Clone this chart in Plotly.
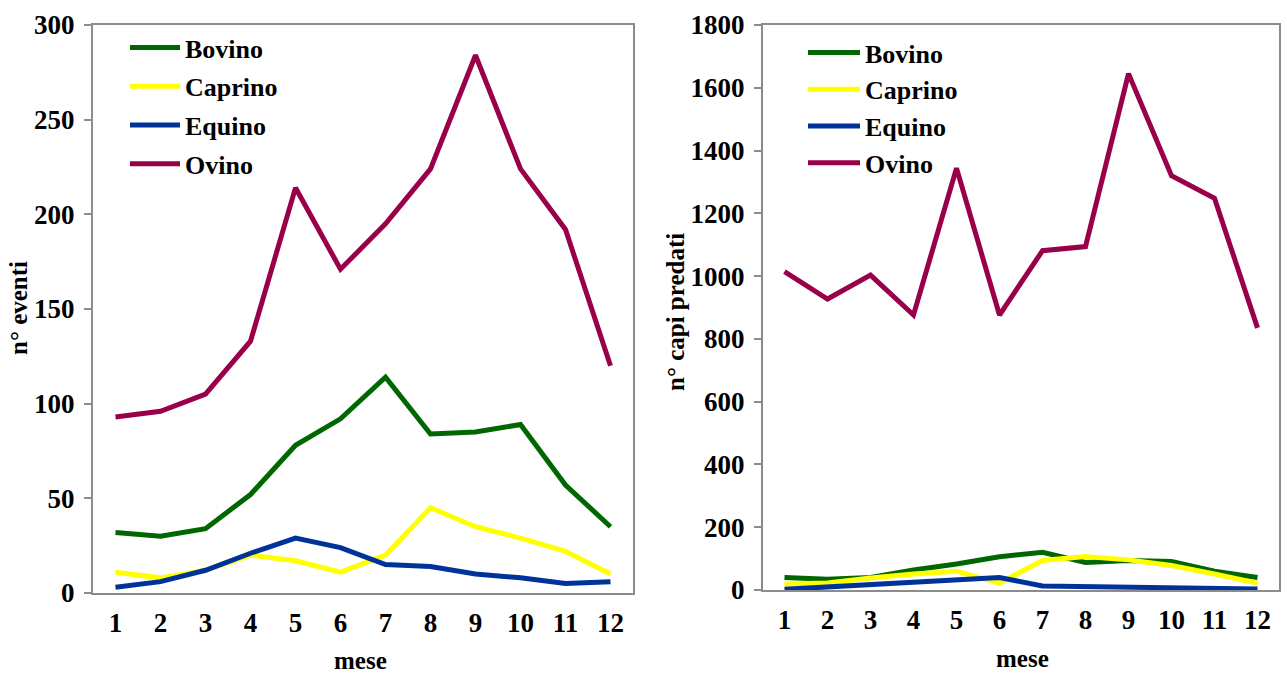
import plotly.graph_objects as go

months = [str(m) for m in range(1, 13)]
series_names = ["Bovino", "Caprino", "Equino", "Ovino"]
colors = {"Bovino": "#006600", "Caprino": "#FFFF00", "Equino": "#003399", "Ovino": "#990049"}

# Left chart: n° eventi
eventi_bovino = [32, 30, 34, 52, 78, 92, 114, 84, 85, 89, 57, 35]
eventi_caprino = [11, 8, 12, 20, 17, 11, 20, 45, 35, 29, 22, 10]
eventi_equino = [3, 6, 12, 21, 29, 24, 15, 14, 10, 8, 5, 6]
eventi_ovino = [93, 96, 105, 133, 214, 171, 195, 224, 284, 224, 192, 120]

# Right chart: n° capi predati
capi_bovino = [40, 34, 40, 64, 83, 106, 120, 88, 94, 91, 60, 40]
capi_caprino = [19, 22, 38, 51, 60, 22, 94, 107, 96, 78, 51, 22]
capi_equino = [2, 9, 17, 24, 30, 40, 13, 11, 8, 6, 3, 3]
capi_ovino = [1014, 927, 1003, 876, 1344, 876, 1081, 1094, 1645, 1320, 1248, 835]

eventi = dict(zip(series_names, [eventi_bovino, eventi_caprino, eventi_equino, eventi_ovino]))
capi = dict(zip(series_names, [capi_bovino, capi_caprino, capi_equino, capi_ovino]))

FONT = "Liberation Serif, Times New Roman, serif"
W, H = 1287, 675
TICK = dict(family=FONT, size=27, color="black", weight="bold")
LEG = dict(family=FONT, size=26, color="black", weight="bold")
TTL = dict(family=FONT, size=25, color="black", weight="bold")

fig = go.Figure()
for name in series_names:
    fig.add_trace(go.Scatter(x=months, y=eventi[name], mode="lines", name=name,
                             line=dict(color=colors[name], width=5),
                             xaxis="x", yaxis="y", legend="legend", legendgroup="l" + name))
for name in series_names:
    fig.add_trace(go.Scatter(x=months, y=capi[name], mode="lines", name=name,
                             line=dict(color=colors[name], width=5),
                             xaxis="x2", yaxis="y2", legend="legend2", legendgroup="r" + name))

axis_common = dict(showline=True, mirror=True, linecolor="#8c8c8c", linewidth=2,
                   showgrid=False, zeroline=False, automargin=False, tickfont=TICK)

fig.update_layout(
    width=W, height=H,
    margin=dict(l=0, r=0, t=0, b=0, autoexpand=False),
    paper_bgcolor="white", plot_bgcolor="white",
    font=dict(family=FONT, color="black", weight="bold"),
    xaxis=dict(domain=[93 / W, 633 / W], anchor="y", type="category",
               range=[-0.5, 11.5], ticks="", ticklabelstandoff=5, **axis_common),
    yaxis=dict(domain=[1 - 593 / H, 1 - 25 / H], anchor="x", range=[0, 300],
               tickvals=[0, 50, 100, 150, 200, 250, 300], ticklabelstandoff=4,
               ticks="outside", ticklen=7, tickcolor="#8c8c8c", tickwidth=2, **axis_common),
    xaxis2=dict(domain=[763 / W, 1279 / W], anchor="y2", type="category",
                range=[-0.5, 11.5], ticks="", ticklabelstandoff=5, **axis_common),
    yaxis2=dict(domain=[1 - 590 / H, 1 - 25 / H], anchor="x2", range=[0, 1800],
                tickvals=[0, 200, 400, 600, 800, 1000, 1200, 1400, 1600, 1800], ticklabelstandoff=4,
                ticks="outside", ticklen=7, tickcolor="#8c8c8c", tickwidth=2, **axis_common),
    legend=dict(x=125 / W, y=1 - 24 / H, xanchor="left", yanchor="top",
                bgcolor="rgba(0,0,0,0)", tracegroupgap=2, itemwidth=50, font=LEG),
    legend2=dict(x=803 / W, y=1 - 29 / H, xanchor="left", yanchor="top",
                 bgcolor="rgba(0,0,0,0)", tracegroupgap=0, itemwidth=52, font=LEG),
    annotations=[
        dict(text="n° eventi", x=18 / W, y=1 - 308 / H, xref="paper", yref="paper",
             xanchor="center", yanchor="middle",
             textangle=-90, showarrow=False, font=TTL),
        dict(text="mese", x=360 / W, y=1 - 660 / H, xref="paper", yref="paper",
             xanchor="center", yanchor="middle", showarrow=False, font=TTL),
        dict(text="n° capi predati", x=675 / W, y=1 - 312 / H, xref="paper", yref="paper",
             xanchor="center", yanchor="middle",
             textangle=-90, showarrow=False, font=TTL),
        dict(text="mese", x=1022 / W, y=1 - 658 / H, xref="paper", yref="paper",
             xanchor="center", yanchor="middle", showarrow=False, font=TTL),
    ],
)

fig.write_html("out.html")
